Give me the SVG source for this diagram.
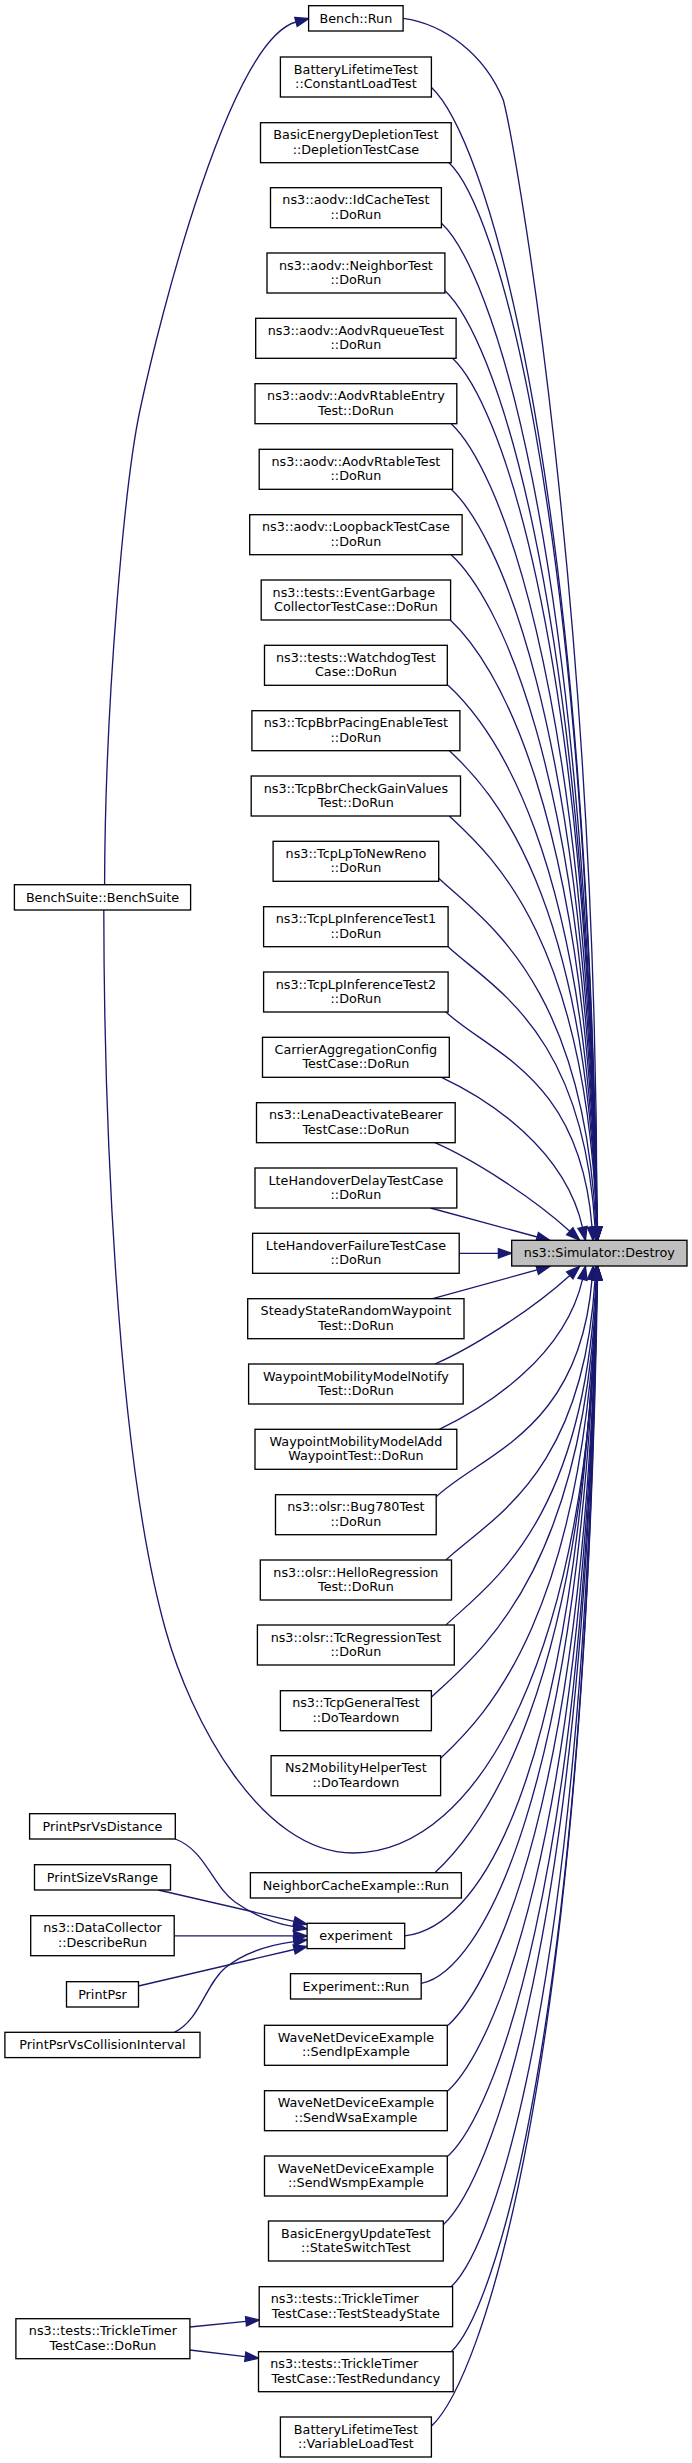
<svg xmlns="http://www.w3.org/2000/svg" width="692" height="2463" viewBox="0 0 692 2463">
<style>
.n rect{fill:#ffffff;stroke:#000000;stroke-width:1.33}
.n text{font-family:"DejaVu Sans",sans-serif;font-size:12.75px;fill:#000000;text-anchor:middle}
.n text.l{text-anchor:start}
#root rect{fill:#bfbfbf}
.e path{fill:none;stroke:#191970;stroke-width:1.33;marker-end:url(#a)}
</style>
<defs>
<marker id="a" markerUnits="userSpaceOnUse" markerWidth="16" markerHeight="12" refX="0" refY="6" orient="auto" overflow="visible">
<path d="M0,1.33 L13.33,6 L0,10.67 z" fill="#191970" stroke="#191970" stroke-width="1.33"/>
</marker>
</defs>
<rect x="0" y="0" width="692" height="2463" fill="#ffffff"/>
<g class="e" id="edges">
<path d="M403.1,18.3 C445,24 485,55 503.3,100 C515,145 597,600 597,1227"/>
<path d="M431.3,87.3 C481.2,133.8 584.2,429.2 597.5,1227"/>
<path d="M449,162.7 C493.4,204.1 585.2,482 597,1227"/>
<path d="M441.5,223.3 C488.2,266.8 584.6,524.4 597,1227"/>
<path d="M445,290.7 C490.6,333.3 584.8,571.6 597,1227"/>
<path d="M452.5,358.3 C495.9,398.8 585.4,618.9 597,1227"/>
<path d="M451.2,423.7 C494.9,464.5 585.3,664.7 597,1227"/>
<path d="M451.2,489.3 C494.9,530.1 585.3,710.6 597,1227"/>
<path d="M451.2,554.7 C494.9,595.5 585.3,756.4 597,1227"/>
<path d="M450.3,620 C494.3,661.1 585.3,802.1 597,1227"/>
<path d="M448.1,685.3 C492.8,727 585.1,847.8 597,1227"/>
<path d="M449.4,750.7 C493.7,792 585.2,893.6 597,1227"/>
<path d="M449.4,816 C493.7,857.3 585.2,939.3 597,1227"/>
<path d="M438.7,878.3 C485.9,922.3 583.4,983 596,1227"/>
<path d="M448.1,946.7 C492.2,987.8 583.2,1030.8 595,1227"/>
<path d="M445.9,1012 C489.7,1052.9 580.3,1076.5 592,1227"/>
<path d="M441.5,1077.3 C490,1100 565,1150 582.5,1227.3"/>
<path d="M434.9,1142.7 C470,1158 530,1195 569.8,1231.2"/>
<path d="M430.5,1208 L537.2,1237"/>
<path d="M459.2,1253.3 L498.4,1253.3"/>
<path d="M432.7,1298.7 L537.2,1269.8"/>
<path d="M434.9,1364 C470,1348.7 530,1311.7 569.8,1275.4"/>
<path d="M439.3,1429.3 C488,1406 565,1356 582.5,1279.3"/>
<path d="M436.2,1496.7 C482.9,1453.1 579.5,1431.6 592,1279.6"/>
<path d="M445.9,1560 C490.6,1518.3 583.1,1475.9 595,1279.6"/>
<path d="M445.9,1625 C490.9,1583 584,1521.4 596,1279.6"/>
<path d="M431.3,1697.3 C481,1650.9 583.7,1572 597,1279.6"/>
<path d="M440.6,1758.3 C487.5,1714.5 584.5,1614.7 597,1279.6"/>
<path d="M434.9,1872.7 C483.5,1827.3 584,1694.8 597,1279.6"/>
<path d="M404.7,1935.9 C475,1928 575,1800 597,1279.6"/>
<path d="M421.2,1983.3 C480,1972 580,1800 597,1279.6"/>
<path d="M448.1,2025.3 C492.8,1983.6 585.1,1801.6 597,1279.6"/>
<path d="M448.1,2090.7 C492.8,2049 585.1,1847.4 597,1279.6"/>
<path d="M448.1,2156 C492.8,2114.3 585.1,1893.1 597,1279.6"/>
<path d="M443.3,2224.7 C489.4,2181.7 584.7,1941.2 597,1279.6"/>
<path d="M451.2,2286.7 C494.9,2245.9 585.3,1984.6 597,1279.6"/>
<path d="M451.2,2351.7 C494.9,2310.9 585.3,2030.1 597,1279.6"/>
<path d="M431.3,2426.3 C481.2,2379.8 584.2,2082.3 597.5,1279.6"/>
<path d="M103.8,910 C104,1100 115,1450 165.6,1630 C190,1718 260,1853 353,1853 C480,1853 590,1650 597,1279.6"/>
<path d="M104.6,884.7 C105,700 125,480 140,410 C160,316 230,40 296,22"/>
<path d="M175.3,1839 C205,1850 212,1885 235,1902 C255,1916 272,1923 293.9,1926.7"/>
<path d="M158.3,1890 L294.1,1921.3"/>
<path d="M174.4,1935.9 L293.8,1935.9"/>
<path d="M138.5,1986 L294.2,1949.5"/>
<path d="M174.4,2032.3 C200,2020 205,1985 225,1968 C245,1952 268,1945 293.9,1941.6"/>
<path d="M189.8,2327 L246,2321.3"/>
<path d="M189.8,2350 L245.3,2356.7"/>
</g>
<g class="n" id="root"><rect x="511.7" y="1240.3" width="175.3" height="25.7"/><text x="599.35" y="1257.3">ns3::Simulator::Destroy</text></g>
<g class="n" id="n1"><rect x="308.6" y="5.7" width="94.5" height="25.3"/><text x="355.9" y="22.7">Bench::Run</text></g>
<g class="n" id="n2"><rect x="280.4" y="57" width="151" height="40"/><text x="355.9" y="73.5">BatteryLifetimeTest</text><text x="355.9" y="87.8">::ConstantLoadTest</text></g>
<g class="n" id="n3"><rect x="260.5" y="122.7" width="190.7" height="40"/><text x="355.9" y="139.2">BasicEnergyDepletionTest</text><text x="355.9" y="153.5">::DepletionTestCase</text></g>
<g class="n" id="n4"><rect x="270.5" y="187.7" width="170.9" height="40"/><text x="355.9" y="204.2">ns3::aodv::IdCacheTest</text><text x="355.9" y="218.5">::DoRun</text></g>
<g class="n" id="n5"><rect x="267" y="253" width="177.9" height="40"/><text x="355.9" y="269.5">ns3::aodv::NeighborTest</text><text x="355.9" y="283.8">::DoRun</text></g>
<g class="n" id="n6"><rect x="255.7" y="318.3" width="200.4" height="40"/><text x="355.9" y="334.8">ns3::aodv::AodvRqueueTest</text><text x="355.9" y="349.1">::DoRun</text></g>
<g class="n" id="n7"><rect x="255" y="383.7" width="201.8" height="40"/><text x="355.9" y="400.2">ns3::aodv::AodvRtableEntry</text><text x="355.9" y="414.5">Test::DoRun</text></g>
<g class="n" id="n8"><rect x="259.2" y="449.3" width="193.4" height="40"/><text x="355.9" y="465.8">ns3::aodv::AodvRtableTest</text><text x="355.9" y="480.1">::DoRun</text></g>
<g class="n" id="n9"><rect x="249.7" y="514.7" width="212.4" height="40"/><text x="355.9" y="531.2">ns3::aodv::LoopbackTestCase</text><text x="355.9" y="545.5">::DoRun</text></g>
<g class="n" id="n10"><rect x="261.2" y="580" width="189.4" height="40"/><text class="l" x="272.6" y="596.5">ns3::tests::EventGarbage</text><text x="355.9" y="610.8">CollectorTestCase::DoRun</text></g>
<g class="n" id="n11"><rect x="264.5" y="645.3" width="182.8" height="40"/><text x="355.9" y="661.8">ns3::tests::WatchdogTest</text><text x="355.9" y="676.1">Case::DoRun</text></g>
<g class="n" id="n12"><rect x="251.9" y="710.7" width="208" height="40"/><text x="355.9" y="727.2">ns3::TcpBbrPacingEnableTest</text><text x="355.9" y="741.5">::DoRun</text></g>
<g class="n" id="n13"><rect x="251.2" y="776" width="209.3" height="40"/><text x="355.9" y="792.5">ns3::TcpBbrCheckGainValues</text><text x="355.9" y="806.8">Test::DoRun</text></g>
<g class="n" id="n14"><rect x="273.1" y="841.3" width="165.6" height="40"/><text x="355.9" y="857.8">ns3::TcpLpToNewReno</text><text x="355.9" y="872.1">::DoRun</text></g>
<g class="n" id="n15"><rect x="263.6" y="906.7" width="184.5" height="40"/><text x="355.9" y="923.2">ns3::TcpLpInferenceTest1</text><text x="355.9" y="937.5">::DoRun</text></g>
<g class="n" id="n16"><rect x="263.6" y="972" width="184.5" height="40"/><text x="355.9" y="988.5">ns3::TcpLpInferenceTest2</text><text x="355.9" y="1002.8">::DoRun</text></g>
<g class="n" id="n17"><rect x="262.5" y="1037.3" width="186.8" height="40"/><text x="355.9" y="1053.8">CarrierAggregationConfig</text><text x="355.9" y="1068.1">TestCase::DoRun</text></g>
<g class="n" id="n18"><rect x="256.5" y="1102.7" width="198.7" height="40"/><text x="355.9" y="1119.2">ns3::LenaDeactivateBearer</text><text x="355.9" y="1133.5">TestCase::DoRun</text></g>
<g class="n" id="n19"><rect x="255" y="1168" width="201.8" height="40"/><text x="355.9" y="1184.5">LteHandoverDelayTestCase</text><text x="355.9" y="1198.8">::DoRun</text></g>
<g class="n" id="n20"><rect x="252.6" y="1233.3" width="206.6" height="40"/><text x="355.9" y="1249.8">LteHandoverFailureTestCase</text><text x="355.9" y="1264.1">::DoRun</text></g>
<g class="n" id="n21"><rect x="247.7" y="1298.7" width="216.3" height="40"/><text x="355.9" y="1315.2">SteadyStateRandomWaypoint</text><text x="355.9" y="1329.5">Test::DoRun</text></g>
<g class="n" id="n22"><rect x="248.6" y="1364" width="214.6" height="40"/><text x="355.9" y="1380.5">WaypointMobilityModelNotify</text><text x="355.9" y="1394.8">Test::DoRun</text></g>
<g class="n" id="n23"><rect x="255" y="1429.3" width="201.8" height="40"/><text x="355.9" y="1445.8">WaypointMobilityModelAdd</text><text x="355.9" y="1460.1">WaypointTest::DoRun</text></g>
<g class="n" id="n24"><rect x="275.5" y="1494.7" width="160.7" height="40"/><text x="355.9" y="1511.2">ns3::olsr::Bug780Test</text><text x="355.9" y="1525.5">::DoRun</text></g>
<g class="n" id="n25"><rect x="260.3" y="1560" width="191.2" height="40"/><text x="355.9" y="1576.5">ns3::olsr::HelloRegression</text><text x="355.9" y="1590.8">Test::DoRun</text></g>
<g class="n" id="n26"><rect x="257.4" y="1625" width="196.9" height="40"/><text x="355.9" y="1641.5">ns3::olsr::TcRegressionTest</text><text x="355.9" y="1655.8">::DoRun</text></g>
<g class="n" id="n27"><rect x="280.4" y="1690.7" width="151" height="40"/><text x="355.9" y="1707.2">ns3::TcpGeneralTest</text><text x="355.9" y="1721.5">::DoTeardown</text></g>
<g class="n" id="n28"><rect x="271.1" y="1755.7" width="169.5" height="40"/><text x="355.9" y="1772.2">Ns2MobilityHelperTest</text><text x="355.9" y="1786.5">::DoTeardown</text></g>
<g class="n" id="n29"><rect x="250.4" y="1872.7" width="211" height="25.3"/><text x="355.9" y="1889.7">NeighborCacheExample::Run</text></g>
<g class="n" id="n30"><rect x="307.1" y="1923.3" width="97.6" height="25.3"/><text x="355.9" y="1940.3">experiment</text></g>
<g class="n" id="n31"><rect x="290.5" y="1973.7" width="130.7" height="25.3"/><text x="355.9" y="1990.7">Experiment::Run</text></g>
<g class="n" id="n32"><rect x="264.5" y="2025.3" width="182.8" height="40"/><text x="355.9" y="2041.8">WaveNetDeviceExample</text><text x="355.9" y="2056.1">::SendIpExample</text></g>
<g class="n" id="n33"><rect x="264.5" y="2090.7" width="182.8" height="40"/><text x="355.9" y="2107.2">WaveNetDeviceExample</text><text x="355.9" y="2121.5">::SendWsaExample</text></g>
<g class="n" id="n34"><rect x="264.5" y="2156" width="182.8" height="40"/><text x="355.9" y="2172.5">WaveNetDeviceExample</text><text x="355.9" y="2186.8">::SendWsmpExample</text></g>
<g class="n" id="n35"><rect x="268.5" y="2221" width="174.8" height="40"/><text x="355.9" y="2237.5">BasicEnergyUpdateTest</text><text x="355.9" y="2251.8">::StateSwitchTest</text></g>
<g class="n" id="n36"><rect x="259.2" y="2286.7" width="193.4" height="40"/><text class="l" x="270.7" y="2303.2">ns3::tests::TrickleTimer</text><text x="355.9" y="2317.5">TestCase::TestSteadyState</text></g>
<g class="n" id="n37"><rect x="258.5" y="2351.7" width="194.7" height="40"/><text class="l" x="270.2" y="2368.2">ns3::tests::TrickleTimer</text><text x="355.9" y="2382.5">TestCase::TestRedundancy</text></g>
<g class="n" id="n38"><rect x="280.4" y="2417" width="151" height="40"/><text x="355.9" y="2433.5">BatteryLifetimeTest</text><text x="355.9" y="2447.8">::VariableLoadTest</text></g>
<g class="n" id="l1"><rect x="14.4" y="884.7" width="176.2" height="25.3"/><text x="102.5" y="901.7">BenchSuite::BenchSuite</text></g>
<g class="n" id="l2"><rect x="29.6" y="1813.7" width="145.7" height="25.3"/><text x="102.5" y="1830.7">PrintPsrVsDistance</text></g>
<g class="n" id="l3"><rect x="34.5" y="1864.7" width="136" height="25.3"/><text x="102.5" y="1881.7">PrintSizeVsRange</text></g>
<g class="n" id="l4"><rect x="30.7" y="1915.7" width="143.5" height="40"/><text x="102.5" y="1932.2">ns3::DataCollector</text><text x="102.5" y="1946.5">::DescribeRun</text></g>
<g class="n" id="l5"><rect x="66.5" y="1981.7" width="72" height="25.3"/><text x="102.5" y="1998.7">PrintPsr</text></g>
<g class="n" id="l6"><rect x="4.9" y="2032.3" width="195.1" height="25.3"/><text x="102.5" y="2049.3">PrintPsrVsCollisionInterval</text></g>
<g class="n" id="l7"><rect x="15.9" y="2318.7" width="174" height="40"/><text x="102.9" y="2335.2">ns3::tests::TrickleTimer</text><text x="102.9" y="2349.5">TestCase::DoRun</text></g>
</svg>
